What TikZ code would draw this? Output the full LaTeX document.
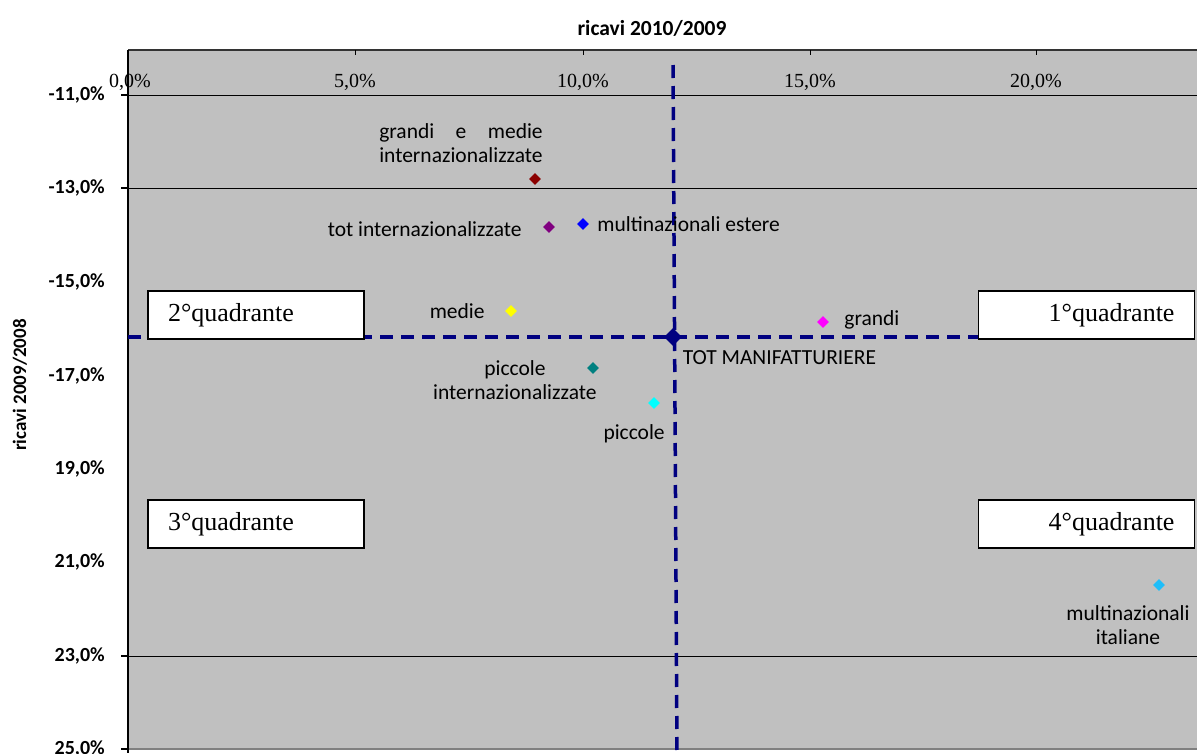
\documentclass[tikz,border=0pt]{standalone}
\usepackage{fontspec}
\setmainfont{Liberation Serif}
\newfontfamily\lblfont{Carlito}
\usepackage{tikz}
\usetikzlibrary{shapes.geometric,positioning}
\definecolor{plotgray}{RGB}{192,192,192}
\definecolor{darkred}{RGB}{139,0,0}
\definecolor{navyblue}{RGB}{0,0,128}
\definecolor{skyblue}{RGB}{30,190,250}
\definecolor{ptpurple}{RGB}{128,0,128}
\definecolor{ptblue}{RGB}{0,0,255}
\definecolor{ptyellow}{RGB}{255,255,0}
\definecolor{ptmagenta}{RGB}{255,0,255}
\definecolor{ptteal}{RGB}{0,128,128}
\definecolor{ptcyan}{RGB}{0,255,255}
\newlength\gmwidth

\tikzset{
  mark/.style={diamond,fill=#1,inner sep=0pt,minimum size=12pt},
  lbl/.style={font=\lblfont\fontsize{21.5}{24}\selectfont,inner sep=1pt},
  quadbox/.style={draw=black,line width=1.5pt,fill=white,minimum height=48pt,
    inner xsep=20pt,text width=176pt,font=\fontsize{26}{28}\selectfont},
  ytick/.style={anchor=east,font=\lblfont\bfseries\fontsize{20}{22}\selectfont,inner sep=0pt},
  xtick/.style={font=\fontsize{20}{22}\selectfont,inner sep=0pt},
  quadline/.style={navyblue,line width=3.5pt,dash pattern=on 13pt off 8pt}
}

\begin{document}
\begin{tikzpicture}[x=1pt,y=-1pt]
	\useasboundingbox (0,0) rectangle (1197,753);
	% plot area
	\fill[plotgray] (128,50) rectangle (1197,749);
	\draw[gray,line width=1.5pt] (128,749) -- (1197,749);
	\foreach \y in {95,188,656}
		\draw[black,line width=0.8pt] (128,\y) -- (1197,\y);
	\draw[black!80,line width=2pt] (128,50) -- (1197,50);
	\draw[black,line width=2pt] (128,50) -- (128,753);
	\foreach \y in {95,188,656,749}
		\draw[black,line width=1.5pt] (121,\y) -- (128,\y);
	\foreach \x in {355,583,810,1036}
		\draw[black,line width=1pt] (\x,50) -- (\x,55);
	% axis labels
	\node[font=\lblfont\bfseries\fontsize{21.5}{24}\selectfont] (xtitle) at (652,28) {ricavi 2010/2009};
	\node[font=\lblfont\bfseries\fontsize{19}{22}\selectfont,rotate=90] (ytitle) at (20,385) {ricavi 2009/2008};
	\foreach \x/\t in {130/{0,0\%},355/{5,0\%},583/{10,0\%},810/{15,0\%},1036/{20,0\%}}
		\node[xtick] at (\x,82) {\t};
	\foreach \y/\t in {95/{-11,0\%},188/{-13,0\%},282/{-15,0\%},376/{-17,0\%},469/{19,0\%},562/{21,0\%},656/{23,0\%},749/{25,0\%}}
		\node[ytick] at (105,\y) {\t};
	% quadrant lines
	\coordinate (hl) at (128,337);
	\coordinate (hr) at (1197,337);
	\coordinate (vt) at (673,65);
	\coordinate (vb) at (677,753);
	\draw[quadline] (hl) -- (hr);
	\draw[quadline] (vt) -- (vb);
	% quadrant boxes
	\node[quadbox,align=left] (q2) at (256,315) {2°quadrante};
	\node[quadbox,align=right] (q1) at (1086.5,315) {1°quadrante};
	\node[quadbox,align=left] (q3) at (256,524) {3°quadrante};
	\node[quadbox,align=right] (q4) at (1086.5,524) {4°quadrante};
	% points
	\node[mark=darkred] (gmi) at (535,179) {};
	\node[mark=ptpurple] (ti) at (549,227) {};
	\node[mark=ptblue] (me) at (583,224) {};
	\node[mark=ptyellow] (med) at (511,311) {};
	\node[mark=ptmagenta] (gr) at (823,322) {};
	\node[mark=navyblue,minimum size=18pt] (tot) at (673,337) {};
	\node[mark=ptteal] (pi) at (593,368) {};
	\node[mark=ptcyan] (pc) at (654,403) {};
	\node[mark=skyblue] (mi) at (1159,585) {};
	% point labels
	\node[lbl,align=left,above left=12pt and -12pt of gmi] (gmilbl)
		{\settowidth\gmwidth{internazionalizzate}\makebox[\gmwidth][s]{grandi\hfill e\hfill medie}\\internazionalizzate};
	\node[lbl,left=20pt of ti,yshift=-2pt] (tilbl) {tot internazionalizzate};
	\node[lbl,right=7pt of me] (melbl) {multinazionali estere};
	\node[lbl,left=19pt of med] (medlbl) {medie};
	\node[lbl,right=14pt of gr,yshift=2pt] (grlbl) {grandi};
	\node[lbl,below right=8pt and 4pt of tot] (totlbl) {TOT MANIFATTURIERE};
	\node[lbl,align=center,left=-11pt of pi,yshift=-12pt] (pilbl) {piccole\\internazionalizzate};
	\node[lbl,below left=17pt and -15pt of pc] (pclbl) {piccole};
	\node[lbl,align=center,below=13pt of mi,xshift=-31pt] (milbl) {multinazionali\\italiane};
\end{tikzpicture}
\end{document}
